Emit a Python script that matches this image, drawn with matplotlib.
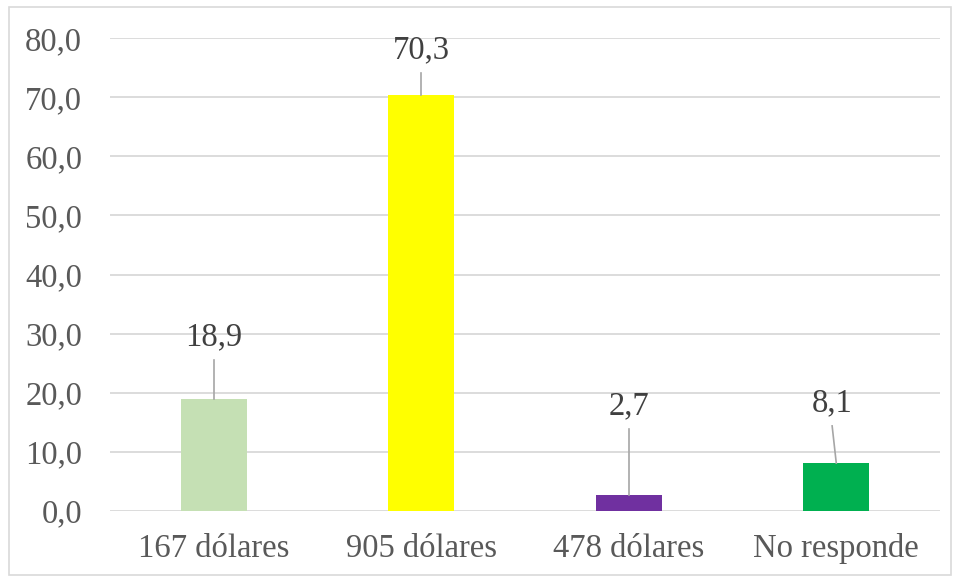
import matplotlib.pyplot as plt
from matplotlib.patches import Rectangle

categories = ['167 dólares', '905 dólares', '478 dólares', 'No responde']
values = [18.9, 70.3, 2.7, 8.1]
colors = ['#C5E0B4', '#FFFF00', '#7030A0', '#00B050']
# where each data label sits (moved by hand in the original chart)
label_y = [29.4, 78.0, 17.8, 18.3]
label_dx = [0.0, 0.0, 0.0, -0.02]

plt.rcParams['font.family'] = ['Liberation Serif', 'DejaVu Serif']

fig = plt.figure(figsize=(9.6, 5.79), dpi=100)
ax = fig.add_axes([0.1146, 0.1174, 0.8646, 0.8169])

x = list(range(len(categories)))
ax.bar(x, values, width=0.32, color=colors, zorder=3)

for i, v in enumerate(values):
    ly = label_y[i]
    lx = i + label_dx[i]
    ax.text(lx, ly, f'{v:.1f}'.replace('.', ','), ha='center', va='center',
            fontsize=23.5, color='#404040', zorder=4)
    ax.plot([i, lx], [v, ly - 3.9], color='#A6A6A6', lw=1.2, zorder=4)

ax.set_xlim(-0.5, 3.5)
ax.set_ylim(0, 80)
ax.set_yticks(range(0, 81, 10))
ax.set_yticklabels([f'{t:.1f}'.replace('.', ',') for t in range(0, 81, 10)])
ax.set_xticks(x)
ax.set_xticklabels(categories)
ax.tick_params(axis='both', length=0, labelsize=23.5, labelcolor='#595959')
ax.tick_params(axis='y', pad=20)
ax.tick_params(axis='x', pad=16)
ax.grid(axis='y', color='#D9D9D9', lw=1.3, zorder=0)
for s in ax.spines.values():
    s.set_visible(False)

fig.patches.append(Rectangle((9 / 960, 4 / 579), 942 / 960, 568 / 579,
                             transform=fig.transFigure, fill=False,
                             edgecolor='#D9D9D9', lw=1.2))

fig.savefig('out.png', dpi=100)
